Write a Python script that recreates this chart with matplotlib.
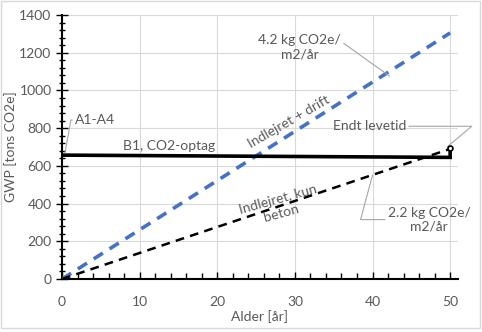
import numpy as np
import matplotlib.pyplot as plt
from matplotlib.patches import Rectangle

plt.rcParams["font.family"] = ["Lato", "DejaVu Sans"]
plt.rcParams["font.size"] = 10

alder = [0, 50]
indlejret_drift = [0, 1305]
indlejret_beton = [0, 690]
b1_x = [0, 50, 50]
b1_y = [657, 645, 695]
endt_x = [50]
endt_y = [695]

grey = "#595959"

fig = plt.figure(figsize=(4.82, 3.32), dpi=100)
ax = fig.add_axes([0.1286, 0.1596, 0.8214, 0.7952])

ax.plot(alder, indlejret_drift, color="#4472c4", lw=2.6, dashes=(3, 2.2), zorder=3)
ax.plot(alder, indlejret_beton, color="black", lw=1.8, dashes=(3.5, 2.5), zorder=3)
ax.plot(b1_x, b1_y, color="black", lw=2.6, solid_joinstyle="miter", zorder=4)
ax.plot(endt_x, endt_y, "o", ms=3.5, mfc="white", mec="black", mew=1.2, zorder=5)

ax.set_xlim(0, 51)
ax.set_ylim(0, 1400)
ax.set_xticks(np.arange(0, 51, 10))
ax.set_xticks(np.arange(0, 51, 2), minor=True)
ax.set_yticks(np.arange(0, 1401, 200))
ax.set_yticks(np.arange(0, 1401, 40), minor=True)
ax.grid(True, which="major", color="#d9d9d9", lw=0.8)
ax.set_axisbelow(True)
for s in ["top", "right"]:
    ax.spines[s].set_visible(False)
for s in ["left", "bottom"]:
    ax.spines[s].set_linewidth(1.5)
ax.tick_params(which="major", direction="inout", length=8, width=1, colors="black",
               labelcolor=grey, labelsize=10)
ax.tick_params(which="minor", direction="inout", length=5, width=1, colors="black")
ax.tick_params(axis="x", which="both", direction="in", pad=12)
ax.tick_params(axis="x", which="major", length=5)
ax.tick_params(axis="x", which="minor", length=4)
ax.set_xlabel("Alder [år]", color=grey, fontsize=10, labelpad=2)
ax.set_ylabel("GWP [tons CO2e]", color=grey, fontsize=10, labelpad=2)

lc = "#a6a6a6"
ax.annotate("A1-A4", xy=(0.4, 670), xytext=(1.7, 843), color=grey, ha="left", va="center",
            arrowprops=dict(arrowstyle="-", color=lc, lw=0.8, shrinkA=0, shrinkB=0,
                            connectionstyle="angle,angleA=0,angleB=80,rad=0"))
ax.text(13.8, 705, "B1, CO2-optag", color=grey, ha="center", va="center")
ax.annotate("4.2 kg CO2e/\nm2/år", xy=(42.2, 1076), xytext=(30.6, 1230), color=grey,
            ha="center", va="center", linespacing=1.2,
            arrowprops=dict(arrowstyle="-", color=lc, lw=0.8, shrinkA=0, shrinkB=0,
                            relpos=(1.0, 0.72)))
ax.text(29.2, 835, "Indlejret + drift", color=grey, ha="center", va="center", rotation=30)
ax.annotate("Endt levetid", xy=(49.6, 700), xytext=(39.6, 810), color=grey,
            ha="center", va="center",
            arrowprops=dict(arrowstyle="-", color=lc, lw=0.8, shrinkA=0, shrinkB=0,
                            relpos=(1.0, 0.5), connectionstyle="angle,angleA=0,angleB=40,rad=0"))
ax.text(28.0, 385, "Indlejret, kun\nbeton", color=grey, ha="center", va="center",
        rotation=15.5, linespacing=1.15)
ax.annotate("2.2 kg CO2e/\nm2/år", xy=(40, 551), xytext=(47.3, 315), color=grey,
            ha="center", va="center", linespacing=1.2,
            arrowprops=dict(arrowstyle="-", color=lc, lw=0.8, shrinkA=0, shrinkB=0,
                            relpos=(0.0, 0.5), connectionstyle="angle,angleA=0,angleB=75,rad=0"))

fig.patches.append(Rectangle((0.002, 0.012), 0.994, 0.986, transform=fig.transFigure,
                             fill=False, ec="#d9d9d9", lw=1))

fig.savefig("out.png", dpi=100)
plt.close(fig)
